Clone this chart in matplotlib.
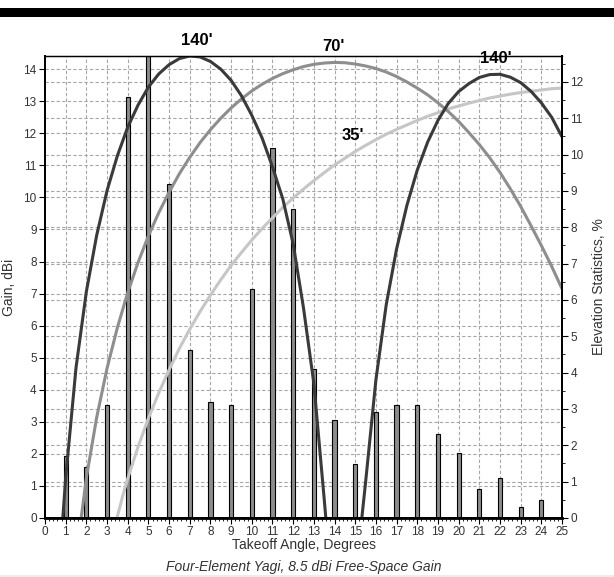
import numpy as np
import matplotlib
matplotlib.use("Agg")
import matplotlib.pyplot as plt
from matplotlib.patches import Rectangle
from matplotlib.ticker import MultipleLocator

plt.rcParams['font.family'] = ['Liberation Sans', 'DejaVu Sans']

# elevation statistics, % per degree of takeoff angle
stat_angles = np.arange(1, 25)
stat_pct = [1.70, 1.39, 3.10, 11.58, 13.0, 9.20, 4.61, 3.18, 3.10, 6.29, 10.19, 8.49,
            4.09, 2.70, 1.49, 2.91, 3.10, 3.10, 2.30, 1.80, 0.80, 1.11, 0.30, 0.50]

# 140 ft antenna, first lobe
ang_140a = [0.86, 0.9, 1.0, 1.5, 2.0, 2.5, 3.0, 3.5, 4.0, 4.5, 5.0, 5.5, 6.0, 6.5, 7.0,
            7.5, 8.0, 8.5, 9.0, 9.5, 10.0, 10.5, 11.0, 11.5, 12.0, 12.5, 13.0, 13.5, 13.58]
gain_140a = [0.0, 0.35, 1.25, 4.69, 7.06, 8.82, 10.21, 11.30, 12.19, 12.88, 13.44, 13.85,
             14.14, 14.33, 14.41, 14.38, 14.24, 14.00, 13.65, 13.17, 12.56, 11.85, 10.95,
             9.95, 8.55, 6.55, 4.20, 0.60, 0.0]
# 140 ft antenna, second lobe
ang_140b = [15.32, 15.5, 16.0, 16.5, 17.0, 17.5, 18.0, 18.5, 19.0, 19.5, 20.0, 20.5,
            21.0, 21.5, 22.0, 22.5, 23.0, 23.5, 24.0, 24.5, 25.0]
gain_140b = [0.0, 1.10, 4.30, 6.65, 8.39, 9.75, 10.85, 11.72, 12.40, 12.93, 13.30, 13.55,
             13.74, 13.83, 13.84, 13.75, 13.58, 13.31, 12.95, 12.50, 11.89]
# 70 ft antenna
ang_70 = [1.75, 2.0, 2.5, 3.0, 3.5, 4.0, 4.5, 5.0, 5.5, 6.0, 6.5, 7.0, 7.5, 8.0, 8.5,
          9.0, 9.5, 10.0, 10.5, 11.0, 11.5, 12.0, 12.5, 13.0, 13.5, 14.0, 14.5, 15.0,
          15.5, 16.0, 16.5, 17.0, 17.5, 18.0, 18.5, 19.0, 19.5, 20.0, 20.5, 21.0, 21.5,
          22.0, 22.5, 23.0, 23.5, 24.0, 24.5, 25.0]
gain_70 = [0.0, 1.25, 3.14, 4.67, 5.94, 7.03, 7.97, 8.80, 9.52, 10.16, 10.74, 11.25, 11.71,
           12.11, 12.47, 12.79, 13.07, 13.32, 13.53, 13.71, 13.86, 13.98, 14.08, 14.15,
           14.19, 14.21, 14.20, 14.16, 14.10, 14.02, 13.91, 13.77, 13.60, 13.41, 13.20,
           12.95, 12.68, 12.37, 12.02, 11.65, 11.24, 10.78, 10.27, 9.72, 9.12, 8.50,
           7.85, 7.15]
# 35 ft antenna
ang_35 = [3.48, 3.75, 4.0, 4.5, 5.0, 5.5, 6.0, 6.5, 7.0, 7.5, 8.0, 8.5, 9.0, 9.5, 10.0,
          10.5, 11.0, 11.5, 12.0, 12.5, 13.0, 13.5, 14.0, 14.5, 15.0, 15.5, 16.0, 16.5,
          17.0, 17.5, 18.0, 18.5, 19.0, 19.5, 20.0, 20.5, 21.0, 21.5, 22.0, 22.5, 23.0,
          23.5, 24.0, 24.5, 25.0]
gain_35 = [0.0, 0.67, 1.23, 2.22, 3.11, 3.90, 4.62, 5.29, 5.89, 6.44, 6.95, 7.43, 7.88,
           8.28, 8.67, 9.03, 9.36, 9.69, 9.98, 10.26, 10.52, 10.77, 11.01, 11.22, 11.43,
           11.62, 11.80, 11.97, 12.12, 12.26, 12.40, 12.53, 12.64, 12.76, 12.85, 12.94,
           13.02, 13.10, 13.16, 13.22, 13.27, 13.31, 13.35, 13.39, 13.41]

labels = [("140'", 7.35, 14.90), ("70'", 13.97, 14.72), ("140'", 21.81, 14.34),
          ("35'", 14.89, 11.94)]

txt = '#333333'
grid_kw = dict(color='#a6a6a6', linestyle=(0, (3, 2)), linewidth=0.8)

fig = plt.figure(figsize=(6.14, 5.77), dpi=100)
ax = fig.add_axes([45/614, 1 - 518/577, 517/614, 462/577])
ax2 = ax.twinx()
# bars + grid underneath, gain curves on top
ax2.set_zorder(0)
ax.set_zorder(1)
ax.patch.set_visible(False)

ax.set_xlim(0, 25)
ax.set_ylim(0, 14.41)
ax2.set_ylim(0, 12.71)

# grid
for v in range(1, 25):
    ax2.axvline(v, zorder=0, **grid_kw)
for v in range(1, 13):
    ax2.axhline(v, zorder=0, **grid_kw)
ax2.hlines(np.arange(1, 15), 0, 25, transform=ax.transData, zorder=0, **grid_kw)

ax2.bar(stat_angles, stat_pct, width=0.2, color='#8c8c8c', edgecolor='black',
        linewidth=0.8, zorder=2)

ax.plot(ang_35, gain_35, color='#c6c6c6', lw=2.2, solid_capstyle='butt')
ax.plot(ang_70, gain_70, color='#8e8e8e', lw=2.2, solid_capstyle='butt')
ax.plot(ang_140a, gain_140a, color='#3a3a3a', lw=2.2, solid_capstyle='butt')
ax.plot(ang_140b, gain_140b, color='#3a3a3a', lw=2.2, solid_capstyle='butt')

for s, x, y in labels:
    ax.text(x, y, s, ha='center', va='center', fontsize=12, fontweight='bold',
            color='black', clip_on=False)

# ticks
ax.xaxis.set_major_locator(MultipleLocator(1))
ax.xaxis.set_minor_locator(MultipleLocator(0.2))
ax.yaxis.set_major_locator(MultipleLocator(1))
ax2.yaxis.set_major_locator(MultipleLocator(1))
ax2.yaxis.set_minor_locator(MultipleLocator(0.5))
ax.tick_params(axis='both', which='major', length=4, width=0.8, labelsize=8.5,
               labelcolor=txt, pad=2)
ax.tick_params(axis='x', which='minor', length=2, width=0.6)
ax2.tick_params(axis='y', which='major', length=4, width=0.8, labelsize=8.5,
                labelcolor=txt, pad=2)
ax2.tick_params(axis='y', which='minor', length=2, width=0.6)

for a in (ax, ax2):
    for side in ('left', 'right', 'bottom'):
        a.spines[side].set_linewidth(1.4)
        a.spines[side].set_color('black')
    a.spines['top'].set_linewidth(0.9)
ax.spines['bottom'].set_linewidth(2.0)

ax.set_ylabel('Gain, dBi', fontsize=10, color=txt)
ax.yaxis.set_label_coords(-0.056, 0.5)
ax2.set_ylabel('Elevation Statistics, %', fontsize=10, color=txt)
ax2.yaxis.set_label_coords(1.058, 0.5)
ax.set_xlabel('Takeoff Angle, Degrees', fontsize=10, color=txt)
ax.xaxis.set_label_coords(0.5, -0.058)
ax.xaxis.label.set_va('center')

fig.text(303.5/614, 1 - 567/577, 'Four-Element Yagi, 8.5 dBi Free-Space Gain',
         ha='center', va='center', fontsize=10, style='italic', color=txt)

# black band across the top, light strip at the bottom
fig.add_artist(Rectangle((0, 1 - 17/577), 1, 9/577, transform=fig.transFigure,
                         color='black', lw=0))
fig.add_artist(Rectangle((0, 0), 1, 2/577, transform=fig.transFigure,
                         color='#ececec', lw=0))

fig.savefig('out.png', dpi=100)
